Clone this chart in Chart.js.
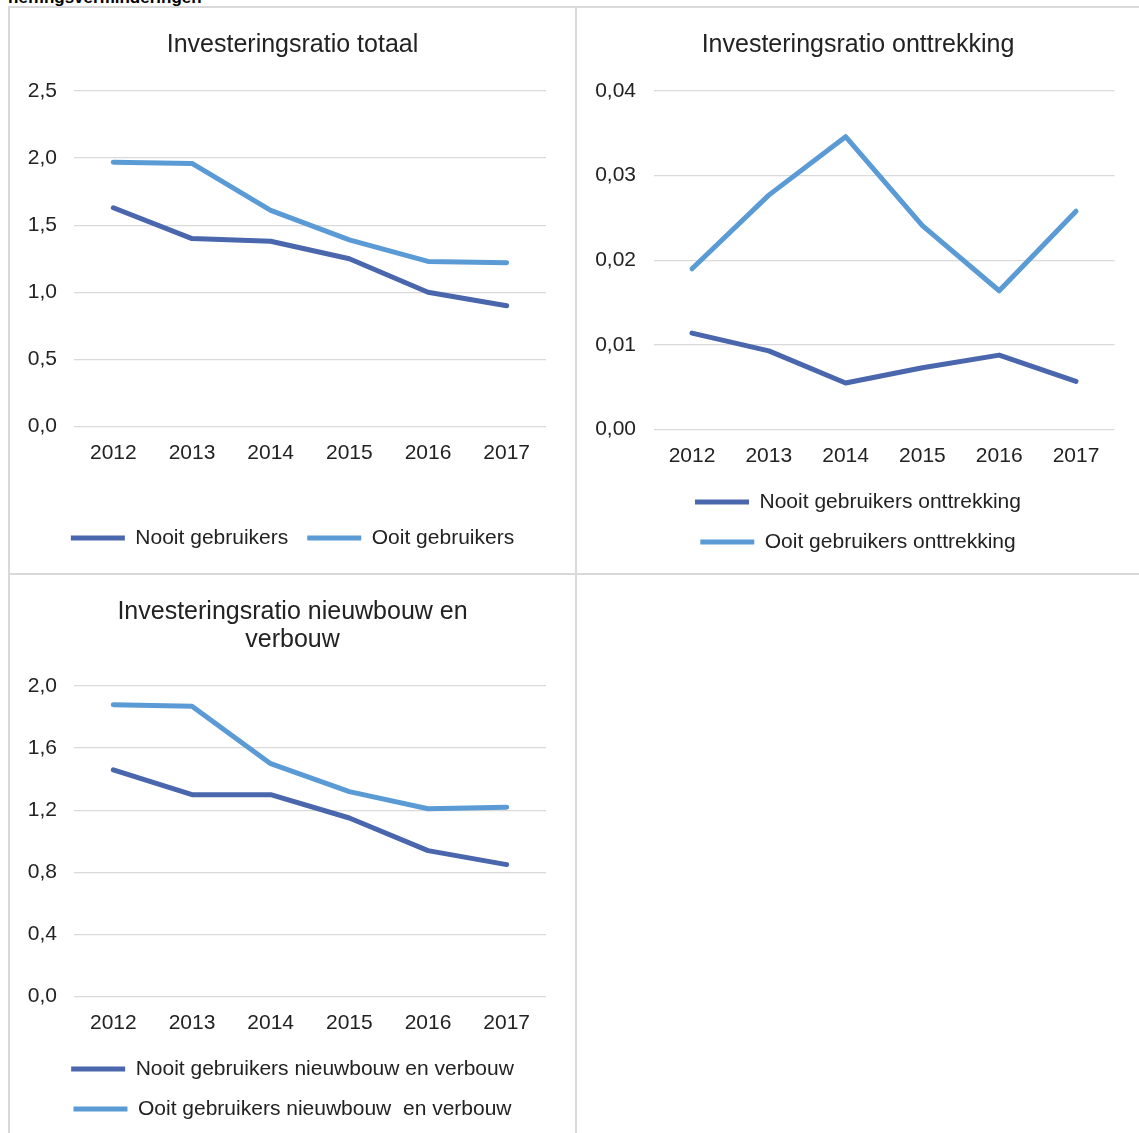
<!DOCTYPE html>
<html lang="nl">
<head>
    <meta charset="UTF-8">
    <title>Investeringsratio</title>
    <script src="https://cdn.jsdelivr.net/npm/chart.js"></script>
    <style>
        body { margin: 0; background: #fff; width: 1139px; height: 1133px; overflow: hidden; position: relative; font-family: "Liberation Sans", Arial, sans-serif; }
        .heading { position: absolute; left: 8px; top: -11px; font-size: 17px; line-height: 17px; font-weight: bold; color: #000; }
        .line { position: absolute; background: #d9d9d9; }
        .box { position: absolute; }
    </style>
</head>
<body>
    <div class="heading">heffingsverminderingen</div>

    <!-- panel borders -->
    <div class="line" style="left:8px; top:6px; width:1131px; height:2px;"></div>
    <div class="line" style="left:8px; top:6px; width:2px; height:1127px;"></div>
    <div class="line" style="left:575px; top:6px; width:2px; height:1127px;"></div>
    <div class="line" style="left:8px; top:573px; width:1131px; height:2px;"></div>

    <div class="box" style="left:10px; top:8px;"><canvas id="totaal" width="565" height="565"></canvas></div>
    <div class="box" style="left:577px; top:8px;"><canvas id="onttrekking" width="562" height="565"></canvas></div>
    <div class="box" style="left:10px; top:575px;"><canvas id="nieuwbouw" width="565" height="558"></canvas></div>

    <script>
        // data
        const years = ['2012', '2013', '2014', '2015', '2016', '2017'];

        const totaalNooit = [1.63, 1.40, 1.38, 1.25, 1.00, 0.90];
        const totaalOoit = [1.97, 1.96, 1.61, 1.39, 1.23, 1.22];

        const onttrekkingNooit = [0.0114, 0.0093, 0.0055, 0.0073, 0.0088, 0.0057];
        const onttrekkingOoit = [0.0190, 0.0277, 0.0346, 0.0241, 0.0164, 0.0258];

        const nieuwbouwNooit = [1.46, 1.30, 1.30, 1.15, 0.94, 0.85];
        const nieuwbouwOoit = [1.88, 1.87, 1.50, 1.32, 1.21, 1.22];

        // y axis ranges (max, step, decimals)
        const totaalTicks = [2.5, 0.5, 1];
        const onttrekkingTicks = [0.04, 0.01, 2];
        const nieuwbouwTicks = [2.0, 0.4, 1];

        const darkBlue = '#4a66ac';
        const lightBlue = '#5b9bd5';
        const textColor = '#222';
        const fontFamily = '"Liberation Sans", Arial, sans-serif';

        function series(label, data, color) {
            return {
                label: label,
                data: data,
                borderColor: color,
                backgroundColor: color,
                borderWidth: 5,
                borderCapStyle: 'round',
                borderJoinStyle: 'round',
                pointRadius: 0,
                tension: 0
            };
        }

        function makeChart(id, opts) {
            const [yMax, yStep, decimals] = opts.ticks;
            return new Chart(document.getElementById(id), {
                type: 'line',
                data: {
                    labels: years,
                    datasets: [
                        series(opts.names[0], opts.nooit, darkBlue),
                        series(opts.names[1], opts.ooit, lightBlue)
                    ]
                },
                options: {
                    responsive: false,
                    animation: false,
                    layout: { padding: { left: 0, right: 0, top: 0, bottom: opts.padBottom } },
                    plugins: {
                        tooltip: { enabled: false },
                        title: {
                            display: true,
                            text: opts.title,
                            color: textColor,
                            font: { family: fontFamily, size: 25, weight: 'normal', lineHeight: 1.12 },
                            padding: { top: opts.titleTop, bottom: opts.titleBottom }
                        },
                        legend: {
                            position: 'bottom',
                            labels: {
                                usePointStyle: true,
                                pointStyle: 'line',
                                pointStyleWidth: 54,
                                padding: 19,
                                color: textColor,
                                font: { family: fontFamily, size: 21 }
                            }
                        }
                    },
                    scales: {
                        x: {
                            offset: true,
                            grid: { display: false, drawTicks: false },
                            border: { display: false },
                            ticks: { color: textColor, font: { family: fontFamily, size: 21 }, padding: 14.4, maxRotation: 0 },
                            afterFit: s => { s.height += opts.xExtra; }
                        },
                        y: {
                            min: 0,
                            max: yMax,
                            grid: { color: '#d9d9d9', lineWidth: 1.3, drawTicks: false },
                            border: { display: false },
                            ticks: {
                                stepSize: yStep,
                                color: textColor,
                                font: { family: fontFamily, size: 21 },
                                padding: opts.yPad,
                                callback: v => v.toFixed(decimals).replace('.', ',')
                            },
                            afterFit: s => { s.width = opts.yWidth; }
                        },
                        right: {
                            position: 'right',
                            display: true,
                            grid: { display: false, drawTicks: false },
                            border: { display: false },
                            ticks: { display: false },
                            afterFit: s => { s.width = opts.rightWidth; }
                        }
                    }
                }
            });
        }

        makeChart('totaal', {
            title: 'Investeringsratio totaal',
            names: ['Nooit gebruikers', 'Ooit gebruikers'],
            nooit: totaalNooit,
            ooit: totaalOoit,
            ticks: totaalTicks,
            titleTop: 23, titleBottom: 32,
            yWidth: 64, yPad: 17, rightWidth: 29,
            xExtra: 28, padBottom: 14.5
        });

        makeChart('onttrekking', {
            title: 'Investeringsratio onttrekking',
            names: ['Nooit gebruikers onttrekking', 'Ooit gebruikers onttrekking'],
            nooit: onttrekkingNooit,
            ooit: onttrekkingOoit,
            ticks: onttrekkingTicks,
            titleTop: 23, titleBottom: 32,
            yWidth: 76.6, yPad: 17.6, rightWidth: 24.6,
            xExtra: -11.1, padBottom: 10.5
        });

        makeChart('nieuwbouw', {
            title: ['Investeringsratio nieuwbouw en', 'verbouw'],
            names: ['Nooit gebruikers nieuwbouw en verbouw', 'Ooit gebruikers nieuwbouw  en verbouw'],
            nooit: nieuwbouwNooit,
            ooit: nieuwbouwOoit,
            ticks: nieuwbouwTicks,
            titleTop: 23, titleBottom: 32,
            yWidth: 64, yPad: 17, rightWidth: 29,
            xExtra: -11.1, padBottom: 3.5
        });
    </script>
</body>
</html>
